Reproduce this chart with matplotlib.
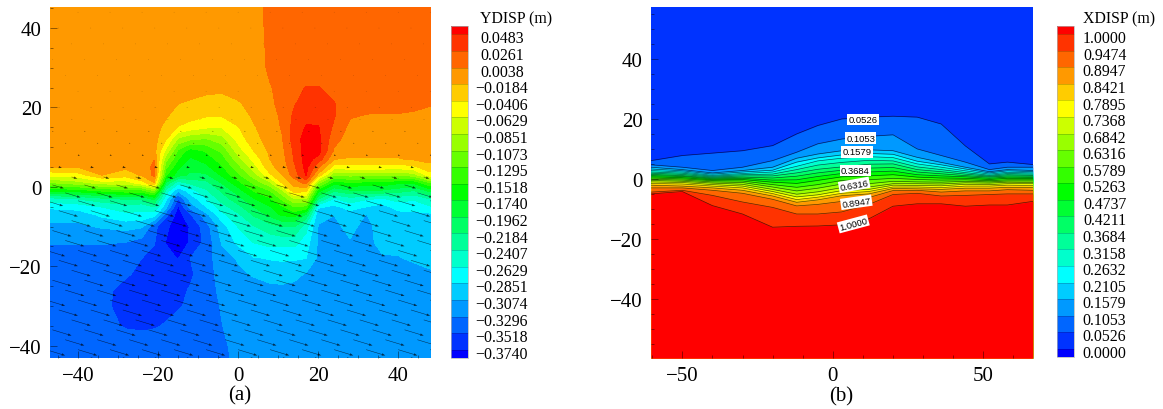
import numpy as np
import matplotlib
matplotlib.use("Agg")
import matplotlib.pyplot as plt
from matplotlib.cm import ScalarMappable
from matplotlib.colors import BoundaryNorm, LinearSegmentedColormap
from matplotlib.transforms import ScaledTranslation

plt.rcParams["font.family"] = ["Liberation Serif", "DejaVu Serif"]

# panel (a): YDISP field, in mm
a_x = [-47, -40, -34, -28, -24, -21, -18, -15, -12, -8, -4, 0, 4, 8, 11, 14, 17, 20, 24, 28, 32, 36, 40, 44, 48]
a_y = [46, 30, 25, 21, 18, 15, 12, 9, 7, 5, 3, 1, -1, -3, -5, -7, -10, -14, -18, -22, -26, -30, -35, -40, -44]
a_ydisp_mm = [
    [-10, -10, -10, -10, -10, -10, -10, -10, -10, -10, -10, -10, -10, 15, 15, 15, 15, 15, 15, 15, 15, 15, 15, 15, 15],
    [-10, -10, -10, -10, -10, -10, -10, -10, -10, -10, -10, -10, -14, 10, 14, 15, 15, 15, 15, 15, 15, 15, 15, 15, 15],
    [-10, -10, -10, -10, -10, -10, -10, -10, -10, -13, -13, -12, -14, 2, 12, 20, 27, 27, 18, 15, 14, 14, 14, 14, 14],
    [-10, -10, -10, -10, -10, -10, -12, -18, -21, -25, -28, -20, -13, 0, 10, 24, 36, 36, 27, 12, 10, 9, 8, 7, 5],
    [-10, -10, -10, -10, -10, -10, -16, -27, -32, -38, -38, -28, -15, -5, 8, 30, 42, 40, 28, 6, 3, 3, 3, 2, 0],
    [-10, -10, -10, -10, -10, -11, -24, -42, -50, -60, -62, -42, -20, -8, 6, 34, 50, 50, 22, -2, -4, -4, -4, -4, -5],
    [-9, -9, -9, -9, -9, -10, -40, -90, -105, -110, -95, -55, -25, -10, 2, 36, 58, 55, 12, -8, -9, -9, -9, -9, -9],
    [-9, -9, -9, -9, -9, -10, -70, -135, -165, -150, -125, -75, -40, -14, -2, 30, 60, 58, 0, -12, -12, -12, -12, -12, -10],
    [-10, -10, -10, -10, -9, 2, -100, -150, -178, -165, -140, -95, -55, -18, -6, 28, 58, 40, -18, -20, -20, -20, -20, -15, -12],
    [-17, -17, -12, -14, -12, 10, -125, -170, -190, -180, -155, -115, -72, -24, -10, 22, 55, 10, -50, -50, -50, -50, -52, -45, -25],
    [-55, -50, -18, -30, -15, 8, -150, -185, -200, -200, -170, -135, -95, -45, -18, 14, 50, -25, -105, -100, -100, -100, -105, -95, -50],
    [-110, -95, -75, -75, -50, -20, -200, -255, -235, -225, -195, -160, -125, -90, -40, -10, 10, -100, -165, -155, -160, -160, -170, -170, -130],
    [-170, -165, -150, -140, -140, -110, -250, -305, -275, -245, -215, -185, -150, -130, -90, -30, -35, -165, -215, -200, -200, -200, -210, -220, -190],
    [-250, -240, -225, -215, -215, -190, -280, -355, -300, -265, -230, -205, -175, -155, -125, -85, -85, -215, -265, -250, -260, -265, -255, -260, -240],
    [-280, -275, -262, -250, -255, -240, -300, -378, -320, -285, -250, -225, -195, -175, -155, -130, -135, -280, -290, -275, -285, -295, -275, -275, -265],
    [-300, -298, -280, -268, -268, -275, -345, -385, -355, -315, -270, -245, -215, -190, -170, -165, -200, -305, -307, -296, -308, -296, -294, -292, -290],
    [-312, -312, -305, -300, -305, -345, -370, -385, -373, -340, -295, -262, -242, -228, -218, -218, -255, -308, -312, -302, -314, -298, -298, -298, -296],
    [-328, -328, -328, -330, -340, -350, -375, -388, -372, -345, -305, -280, -262, -255, -255, -255, -275, -310, -316, -309, -315, -300, -300, -300, -298],
    [-340, -340, -340, -342, -352, -360, -368, -375, -352, -338, -318, -305, -287, -284, -283, -283, -285, -312, -318, -318, -318, -310, -309, -304, -302],
    [-342, -342, -342, -349, -358, -362, -365, -365, -356, -338, -322, -312, -305, -296, -294, -300, -310, -318, -318, -318, -318, -318, -318, -316, -310],
    [-342, -342, -345, -360, -362, -363, -362, -358, -350, -338, -325, -318, -318, -316, -315, -316, -317, -318, -318, -318, -318, -318, -318, -318, -318],
    [-342, -342, -348, -358, -362, -360, -358, -354, -348, -338, -328, -319, -318, -318, -318, -318, -318, -318, -318, -318, -318, -318, -318, -318, -318],
    [-342, -342, -345, -354, -356, -354, -350, -345, -342, -337, -330, -322, -318, -318, -318, -318, -318, -318, -318, -318, -318, -318, -318, -318, -318],
    [-340, -340, -340, -340, -340, -340, -340, -340, -340, -340, -334, -322, -318, -318, -318, -318, -318, -318, -318, -318, -318, -318, -318, -318, -318],
    [-340, -340, -340, -340, -340, -340, -340, -340, -340, -340, -336, -324, -318, -318, -318, -318, -318, -318, -318, -318, -318, -318, -318, -318, -318],
]
a_levels = [-0.3740, -0.3518, -0.3296, -0.3074, -0.2851, -0.2629, -0.2407, -0.2184, -0.1962, -0.1740,
            -0.1518, -0.1295, -0.1073, -0.0851, -0.0629, -0.0406, -0.0184, 0.0038, 0.0261, 0.0483]

# displacement arrows of panel (a)
arrow_x = [-48, -40, -32, -24, -16, -8, 0, 8, 16, 24, 32, 40, 48]
arrow_shift = [0, 3.2, 6.4, 1.6, 4.8]
arrow_row_y = [44, 40, 36, 32, 28, 24, 20, 17, 14, 11, 8, 5, 2.5, 0.5, -1.5, -3.5, -6, -8.5, -11, -13.5, -16,
               -18.5, -21, -23.5, -26, -28.5, -31, -33.5, -36, -38.5, -41, -43]
arrow_len = [0.1, 0.1, 0.1, 0.1, 0.1, 0.1, 0.2, 0.2, 0.3, 0.3, 0.5, 0.8, 1.5, 3, 4, 4.5, 5, 5, 5, 5, 5,
             5, 5, 5, 5, 5, 5, 5, 5, 5, 5, 5]

# panel (b): height of each XDISP contour at the stations below
b_x = [-60.4, -50, -40, -30, -20, -12, -5, 3, 12, 20, 28, 36, 44, 52, 58, 66.4]
b_levels = [0.0000, 0.0526, 0.1053, 0.1579, 0.2105, 0.2632, 0.3158, 0.3684, 0.4211, 0.4737,
            0.5263, 0.5789, 0.6316, 0.6842, 0.7368, 0.7895, 0.8421, 0.8947, 0.9474, 1.0000]
b_heights = [
    [6.1, 7.8, 8.6, 9.4, 11.1, 15, 17.8, 20, 20.6, 20.9, 20.6, 18.3, 11, 5, 5.6, 4.8],
    [4.7, 3.9, 2.8, 3.9, 6.1, 8.9, 11.7, 13.3, 14.2, 14.7, 10, 7.8, 5.6, 3.1, 3.9, 3.9],
    [3.9, 3.1, 2, 2.8, 3.9, 6.9, 8.3, 9.4, 9.7, 9.4, 7.2, 5.5, 3.9, 2.4, 3.1, 2.8],
    [3.3, 2.7, 1.6, 2.3, 2.9, 5.6, 7, 8, 8.5, 8.2, 5.9, 4.7, 3.3, 2, 2.7, 2.4],
    [2.8, 2.3, 1.2, 1.8, 2.3, 4.2, 6, 6.9, 7.4, 7.1, 5, 3.9, 2.7, 1.6, 2.2, 2],
    [2.3, 1.9, 0.9, 1.4, 1.6, 3.1, 4.6, 5.5, 6.2, 6, 4, 3.1, 2.1, 1.2, 1.8, 1.6],
    [1.9, 1.5, 0.6, 1, 1, 2, 3.2, 4, 4.9, 5, 3.1, 2.4, 1.6, 0.9, 1.4, 1.2],
    [1.5, 1.1, 0.3, 0.6, 0.3, 0.9, 2, 2.9, 3.6, 3.8, 2.3, 1.7, 1.1, 0.6, 1, 0.9],
    [1.1, 0.8, 0, 0.2, -0.4, -0.3, 0.8, 1.8, 2.3, 2.6, 1.4, 1, 0.7, 0.2, 0.6, 0.5],
    [0.7, 0.4, -0.3, -0.2, -1.1, -1.5, -0.5, 0.7, 1, 1.4, 0.6, 0.3, 0.2, -0.2, 0.2, 0.1],
    [0.3, 0, -0.6, -0.7, -1.9, -2.8, -1.9, -0.5, -0.3, 0.2, -0.2, -0.4, -0.3, -0.6, -0.3, -0.3],
    [-0.1, -0.4, -1, -1.2, -2.7, -4, -3.1, -1.7, -1.6, -0.8, -1, -1.1, -0.8, -1, -0.7, -0.7],
    [-0.5, -0.8, -1.4, -1.8, -3.5, -5.1, -4.3, -2.9, -2.7, -1.6, -1.6, -1.7, -1.3, -1.4, -1.1, -1.2],
    [-1, -1.2, -1.9, -2.4, -4.2, -6, -5.3, -3.9, -3.5, -2.1, -2.2, -2.3, -1.8, -1.9, -1.6, -1.6],
    [-1.5, -1.7, -2.4, -3, -4.9, -6.9, -6.1, -4.8, -4.2, -2.7, -2.7, -2.9, -2.4, -2.4, -2.1, -2.2],
    [-2.1, -2.4, -3, -3.8, -5.7, -7.8, -7, -5.6, -5, -3.2, -3.3, -3.5, -3.1, -3.1, -2.8, -2.9],
    [-3, -3, -3.8, -4.8, -6.8, -9, -8.5, -7.5, -6.2, -3.9, -3.8, -4.4, -4, -4, -3.6, -3.8],
    [-4.4, -3.8, -5.5, -7.7, -9.5, -11.7, -11.7, -11, -8.5, -5.2, -4.8, -5.7, -5.5, -5.2, -5, -5],
    [-5, -4.2, -8.9, -11.7, -16.1, -15.8, -15.7, -15.3, -13.3, -9.1, -8.3, -8.3, -9.1, -8.7, -8.7, -7.5],
]
b_label_text = ["0.0526", "0.1053", "0.1579", "0.3684", "0.6316", "0.8947", "1.0000"]
b_label_x = [10, 9.3, 8, 7.4, 7.1, 7.8, 6.8]
b_label_y = [19.8, 13.6, 9, 2.8, -2, -7.8, -15]
b_label_rot = [0, 0, 0, 0, 10, 8, 15]

W, H = 1163, 410
tec = LinearSegmentedColormap.from_list("tec", ["#0000ff", "#00ffff", "#00ff00", "#ffff00", "#ff0000"], N=21)
band_colors = [tec(i) for i in range(21)]


def px_axes(fig, left, top, right, bottom):
    return fig.add_axes([left / W, 1 - bottom / H, (right - left) / W, (bottom - top) / H])


def style_axes(ax, xmajor, xminor, ymajor, yminor):
    for s in ax.spines.values():
        s.set_visible(False)
    ax.set_xticks(xmajor)
    ax.set_yticks(ymajor)
    ax.set_xticks(xminor, minor=True)
    ax.set_yticks(yminor, minor=True)
    ax.tick_params(which="major", direction="in", length=5, width=0.6, color="#00000080", labelsize=15, pad=6)
    ax.tick_params(which="minor", direction="in", length=2.5, width=0.6, color="#00000080")
    ax.set_axisbelow(False)


def add_colorbar(fig, cax, levels, title, title_x, label_pad):
    levels = list(levels)
    step = (levels[-1] - levels[0]) / (len(levels) - 1)
    edges = [levels[0] - step / 2] + levels + [levels[-1] + step / 2]
    norm = BoundaryNorm(edges, 21)
    cb = fig.colorbar(ScalarMappable(norm=norm, cmap=tec), cax=cax, spacing="proportional",
                      ticks=levels, drawedges=True)
    cb.minorticks_off()
    cb.outline.set_edgecolor("#b0b0b0")
    cb.outline.set_linewidth(0.5)
    cb.dividers.set_color("#00000040")
    cb.dividers.set_linewidth(0.5)
    cb.ax.set_yticklabels(["{:.4f}".format(v).replace("-", "\u2212") for v in levels])
    cb.ax.tick_params(length=0, labelsize=11.4, pad=label_pad)
    offset = ScaledTranslation(0, -1.5 / 72, fig.dpi_scale_trans)
    for t in cb.ax.get_yticklabels():
        t.set_ha("center")
        t.set_transform(t.get_transform() + offset)
    fig.text(title_x / W, 1 - 19 / H, title, fontsize=11.4, ha="left", va="center")


fig = plt.figure(figsize=(W / 100, H / 100), dpi=100)

# (a)
ax1 = px_axes(fig, 50, 8, 431, 359)
a_field = np.array(a_ydisp_mm) / 1000.0
ax1.contourf(a_x, a_y, a_field, levels=[-1.0] + a_levels + [1.0], colors=band_colors)
qx, qy, qu, qv = [], [], [], []
for i in range(len(arrow_row_y)):
    for x in arrow_x:
        qx.append(x + arrow_shift[i % len(arrow_shift)])
        qy.append(arrow_row_y[i])
        qu.append(arrow_len[i] * 0.956)
        qv.append(-arrow_len[i] * 0.292)
ax1.quiver(qx, qy, qu, qv, angles="xy", scale_units="xy", scale=1, units="dots", width=0.5,
           headwidth=5, headlength=7, headaxislength=7, color="black", alpha=0.7, zorder=3)
ax1.set_xlim(-47, 48.2)
ax1.set_ylim(-43.1, 45.3)
style_axes(ax1, range(-40, 41, 20), range(-45, 46, 5), range(-40, 41, 20), range(-40, 46, 5))
fig.text(240 / W, 1 - 396 / H, "(a)", fontsize=15, ha="center", va="center")

cax1 = px_axes(fig, 451, 27, 467.5, 359)
add_colorbar(fig, cax1, a_levels, "YDISP (m)", 480, 24.8)

# (b)
ax2 = px_axes(fig, 651, 8, 1032.7, 359)
ax2.set_xlim(b_x[0], b_x[-1])
ax2.set_ylim(-59.7, 57.3)
ax2.set_facecolor(band_colors[1])
for k in range(len(b_heights)):
    ax2.fill_between(b_x, b_heights[k], -59.7, color=band_colors[k + 2], linewidth=0, zorder=1 + k * 0.01)
for k in range(len(b_heights)):
    ax2.plot(b_x, b_heights[k], color="black", lw=0.5, alpha=0.65, zorder=2)
for s, x, y, r in zip(b_label_text, b_label_x, b_label_y, b_label_rot):
    ax2.text(x, y, s, fontsize=6.8, family=["Liberation Sans"], rotation=r, rotation_mode="anchor",
             ha="center", va="center", zorder=4,
             bbox=dict(facecolor="white", edgecolor="none", pad=0.8))
style_axes(ax2, range(-50, 51, 50), range(-60, 61, 10), range(-40, 41, 20), range(-55, 56, 5))
fig.text(841 / W, 1 - 397 / H, "(b)", fontsize=15, ha="center", va="center")

cax2 = px_axes(fig, 1057, 27, 1073.5, 358)
add_colorbar(fig, cax2, b_levels, "XDISP (m)", 1083, 22.4)

fig.savefig("out.png", dpi=100)
